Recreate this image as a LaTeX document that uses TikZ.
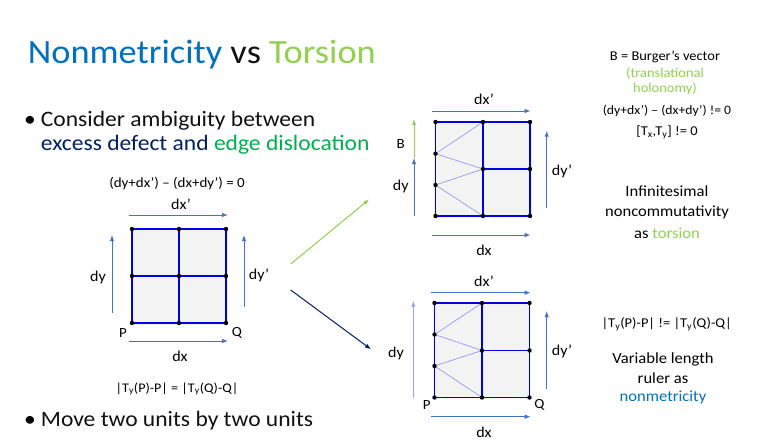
\documentclass[tikz,border=0pt]{standalone}
\usepackage{fontspec}
\setmainfont{Carlito}[FakeStretch=1.07]
\usetikzlibrary{arrows.meta}
\definecolor{tblue}{HTML}{0070C0}
\definecolor{tgreen}{HTML}{92D050}
\definecolor{navy}{HTML}{002060}
\definecolor{egreen}{HTML}{00B050}
\definecolor{mblue}{HTML}{4472C4}
\definecolor{lblue}{HTML}{8FAADC}
\definecolor{gridblue}{HTML}{0000E6}
\definecolor{thinblue}{HTML}{8C8CFF}
\definecolor{cellfill}{HTML}{F3F3F3}
\definecolor{txt}{HTML}{111111}
\tikzset{
  gridline/.style={draw=gridblue, line width=1.3pt},
  thinline/.style={draw=thinblue, line width=0.6pt},
  dotnode/.style={circle, fill=black, inner sep=0pt, minimum size=4.4pt},
  measure/.style={draw=mblue, line width=1pt, -{Latex[length=6pt,width=4.5pt]}},
  lbl/.style={font=\fontsize{15}{17}\selectfont, inner sep=0pt, anchor=center},
  pq/.style={font=\fontsize{14}{16}\selectfont, inner sep=0pt, anchor=center},
  eq/.style={font=\fontsize{13.5}{15}\selectfont, inner sep=0pt, anchor=base},
  req/.style={font=\fontsize{13.5}{15}\selectfont, inner sep=0pt, anchor=base},
  big/.style={font=\fontsize{15.5}{18}\selectfont, inner sep=0pt, anchor=base},
  bul/.style={font=\fontsize{22}{26}\selectfont, inner sep=0pt, anchor=base west},
}
\begin{document}
\begin{tikzpicture}[x=1pt,y=-1pt]
\path[use as bounding box, fill=white] (0,0) rectangle (758,445);

% Title and bullets
\node[font=\fontsize{34}{40}\selectfont, inner sep=0pt, anchor=base west] (title) at (27.7,63.3)
  {\textcolor{tblue}{Nonmetricity} \textcolor{txt}{vs} \textcolor{tgreen}{Torsion}};
\node[bul] (b1) at (24,126) {•};
\node[bul, text=txt] (l1) at (40.7,126) {Consider ambiguity between};
\node[bul] (l2) at (40.7,150.7) {\textcolor{navy}{excess defect and} \textcolor{egreen}{edge dislocation}};
\node[bul] (b2) at (24,426) {•};
\node[bul, text=txt] (l3) at (40.7,426) {Move two units by two units};

% ---------- Left grid ----------
\fill[cellfill] (131,228) rectangle (228,325);
\foreach \i/\x in {0/132,1/179,2/226}{
  \foreach \j/\y in {0/229,1/276,2/323}{
    \coordinate (L\i\j) at (\x,\y);
  }
}
\draw[gridline] (L00) -- (L20) -- (L22) -- (L02) -- cycle;
\draw[gridline] (L10) -- (L12);
\draw[gridline] (L01) -- (L21);
\foreach \i in {0,1,2}{\foreach \j in {0,1,2}{\node[dotnode] (dL\i\j) at (L\i\j) {};}}

\coordinate (Ldxp1) at (129,215); \coordinate (Ldxp2) at (228,215);
\draw[measure] (Ldxp1) -- (Ldxp2);
\coordinate (Ldx1) at (129,341); \coordinate (Ldx2) at (228,341);
\draw[measure] (Ldx1) -- (Ldx2);
\coordinate (Ldy1) at (112,313); \coordinate (Ldy2) at (112,235);
\draw[measure] (Ldy1) -- (Ldy2);
\coordinate (Ldyp1) at (244,307); \coordinate (Ldyp2) at (244,235);
\draw[measure] (Ldyp1) -- (Ldyp2);
\node[lbl] (tLdxp) at (181,204) {dx’};
\node[lbl] (tLdx) at (180,356) {dx};
\node[lbl] (tLdy) at (98,277) {dy};
\node[lbl] (tLdyp) at (259,275) {dy’};
\node[pq] (tLP) at (123,333) {P};
\node[pq] (tLQ) at (237,333) {Q};
\node[eq, font=\fontsize{14}{16}\selectfont] (eqL1) at (177,187) {(dy+dx’) – (dx+dy’) = 0};
\node[eq, font=\fontsize{13.2}{15}\selectfont] (eqL2) at (177,392) {|T\textsubscript{y}(P)-P| = |T\textsubscript{y}(Q)-Q|};

% ---------- Middle arrows ----------
\coordinate (ga1) at (290.7,264); \coordinate (ga2) at (369.3,199.3);
\draw[draw=tgreen, line width=1pt, -{Latex[length=6pt,width=4.5pt]}] (ga1) -- (ga2);
\coordinate (na1) at (290.7,290); \coordinate (na2) at (371,349.3);
\draw[draw=navy, line width=1pt, -{Latex[length=6pt,width=4.5pt]}] (na1) -- (na2);

% ---------- Upper right grid ----------
\fill[cellfill] (434,120.5) rectangle (532,217.5);
\foreach \i/\x in {0/435.5,1/483,2/530}{
  \foreach \j/\y in {0/122,1/169,2/216}{
    \coordinate (U\i\j) at (\x,\y);
  }
}
\coordinate (Ua) at (435.5,153.7);
\coordinate (Ub) at (435.5,185);
\draw[thinline] (Ua) -- (U10);
\draw[thinline] (Ua) -- (U11);
\draw[thinline] (Ub) -- (U11);
\draw[thinline] (Ub) -- (U12);
\draw[gridline] (U00) -- (U20) -- (U22) -- (U02) -- cycle;
\draw[gridline] (U10) -- (U12);
\draw[gridline] (U11) -- (U21);
\foreach \n in {U00,U10,U20,U11,U21,U02,U12,U22,Ua,Ub}{\node[dotnode] (d\n) at (\n) {};}

\coordinate (Udxp1) at (431.7,111); \coordinate (Udxp2) at (530.7,111);
\draw[measure] (Udxp1) -- (Udxp2);
\coordinate (Udx1) at (431.7,235); \coordinate (Udx2) at (530.7,235);
\draw[measure] (Udx1) -- (Udx2);
\coordinate (Udy1) at (414,216); \coordinate (Udy2) at (414,158);
\draw[measure] (Udy1) -- (Udy2);
\coordinate (UB2) at (414,119);
\draw[draw=tgreen, line width=1pt, -{Latex[length=6pt,width=4.5pt]}] (Udy2) -- (UB2);
\coordinate (Udyp1) at (546.7,208); \coordinate (Udyp2) at (546.7,130.7);
\draw[measure] (Udyp1) -- (Udyp2);
\node[lbl] (tUdxp) at (484,99) {dx’};
\node[lbl] (tUdx) at (484,250) {dx};
\node[lbl] (tUdy) at (400.7,186) {dy};
\node[pq] (tUB) at (400.7,144.5) {B};
\node[lbl] (tUdyp) at (562,171) {dy’};

% ---------- Lower right grid ----------
\fill[cellfill] (433,301.5) rectangle (531,399);
\foreach \i/\x in {0/434.5,1/482,2/529.5}{
  \foreach \j/\y in {0/303,1/350.5,2/397.5}{
    \coordinate (D\i\j) at (\x,\y);
  }
}
\coordinate (Da) at (434.5,334.5);
\coordinate (Db) at (434.5,366);
\draw[thinline] (Da) -- (D10);
\draw[thinline] (Da) -- (D11);
\draw[thinline] (Db) -- (D11);
\draw[thinline] (Db) -- (D12);
\draw[gridline] (D00) -- (D20) -- (D22) -- (D02) -- cycle;
\draw[gridline] (D10) -- (D12);
\draw[gridline] (D11) -- (D21);
\foreach \n in {D00,D10,D20,D11,D21,D02,D12,D22,Da,Db}{\node[dotnode] (d\n) at (\n) {};}

\coordinate (Ddxp1) at (430.7,292.7); \coordinate (Ddxp2) at (530.7,292.7);
\draw[measure] (Ddxp1) -- (Ddxp2);
\coordinate (Ddx1) at (430.7,416.7); \coordinate (Ddx2) at (530.7,416.7);
\draw[measure] (Ddx1) -- (Ddx2);
\coordinate (Ddy1) at (413.3,397.7); \coordinate (Ddy2) at (413.3,300.7);
\draw[measure, draw=lblue] (Ddy1) -- (Ddy2);
\coordinate (Ddyp1) at (546.7,389); \coordinate (Ddyp2) at (546.7,311);
\draw[measure] (Ddyp1) -- (Ddyp2);
\node[lbl] (tDdxp) at (484,281) {dx’};
\node[lbl] (tDdx) at (484,432) {dx};
\node[lbl] (tDdy) at (396,353) {dy};
\node[lbl] (tDdyp) at (562,351) {dy’};
\node[pq] (tDP) at (426.7,405) {P};
\node[pq] (tDQ) at (539.3,405) {Q};

% ---------- Right text ----------
\node[req] (r1) at (665,60.7) {B = Burger’s vector};
\node[req, text=tgreen] (r2) at (665,77) {(translational};
\node[req, text=tgreen] (r3) at (665,92) {holonomy)};
\node[req, font=\fontsize{12.8}{15}\selectfont] (r4) at (667,114) {(dy+dx’) – (dx+dy’) != 0};
\node[req] (r5) at (667,135) {[T\textsubscript{x},T\textsubscript{y}] != 0};
\node[big] (r6) at (667,196.7) {Infinitesimal};
\node[big] (r7) at (667,216.7) {noncommutativity};
\node[big] (r8) at (667,238.3) {as \textcolor{tgreen}{torsion}};
\node[eq] (r9) at (666.7,327.3) {|T\textsubscript{y}(P)-P| != |T\textsubscript{y}(Q)-Q|};
\node[big] (r10) at (663,363.3) {Variable length};
\node[big] (r11) at (663,383.3) {ruler as};
\node[big, text=tblue] (r12) at (663,401.7) {nonmetricity};
\end{tikzpicture}
\end{document}
